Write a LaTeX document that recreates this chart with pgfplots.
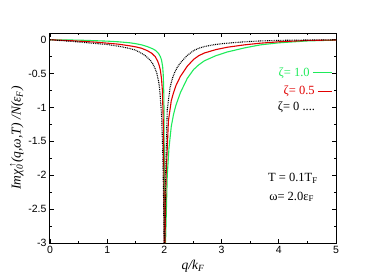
\documentclass[border=0pt]{standalone}
\usepackage{fontspec}
\setmainfont{Liberation Serif}
\newfontfamily\tickfont{Liberation Sans}
\usepackage{pgfplots}
\pgfplotsset{compat=1.18}
\definecolor{zgreen}{RGB}{30,235,90}
\definecolor{zred}{RGB}{225,0,0}
\begin{document}
\begin{tikzpicture}
\begin{axis}[
  scale only axis,
  width=286pt, height=210pt,
  xmin=0, xmax=5, ymin=-3, ymax=0.1,
  xtick={0,1,2,3,4,5},
  ytick={-3,-2.5,-2,-1.5,-1,-0.5,0},
  minor tick num=1,
  tick align=inside,
  xtick pos=both, ytick pos=both,
  major tick length=4pt, minor tick length=2pt,
  axis line style={line width=1pt},
  every tick/.style={line width=0.8pt, black},
  tick label style={font=\tickfont\fontsize{10.5}{11}\selectfont},
  /pgf/number format/assume math mode=true,
  yticklabel style={/pgf/number format/fixed},
  xlabel={\fontsize{13.5}{14}\selectfont\itshape q/k\textsubscript{F}},
  ylabel={\fontsize{13.5}{15}\selectfont\itshape Imχ\rlap{\textsubscript{0}}\textsuperscript{\,↑}(q,ω,T) /N(ε\textsubscript{F})},
  xlabel style={yshift=1pt},
  ylabel style={yshift=-2pt},
]
\addplot[zgreen, line width=1.1pt] coordinates {
(0,0) (0.5,-0.005) (1.0,-0.02) (1.2,-0.03) (1.4,-0.045) (1.5,-0.058) (1.6,-0.075) (1.7,-0.1) (1.8,-0.135) (1.85,-0.16) (1.9,-0.205) (1.93,-0.25) (1.95,-0.3) (1.97,-0.4) (1.98,-0.52) (1.99,-0.8) (1.995,-1.2) (1.998,-1.9) (2.0,-3)
};
\addplot[zgreen, line width=1.1pt] coordinates {
(2.02,-3) (2.05,-2.0) (2.08,-1.6) (2.12,-1.28) (2.16,-1.1) (2.2,-0.97) (2.28,-0.78) (2.4,-0.57) (2.51,-0.44) (2.6,-0.37) (2.7,-0.31) (2.9,-0.235) (3.1,-0.18) (3.4,-0.12) (3.68,-0.075) (4.0,-0.045) (4.5,-0.017) (5,-0.005)
};
\addplot[zred, line width=1.1pt] coordinates {
(0,0) (0.4,-0.015) (0.8,-0.035) (1.0,-0.05) (1.2,-0.065) (1.4,-0.09) (1.5,-0.105) (1.6,-0.125) (1.7,-0.16) (1.78,-0.2) (1.84,-0.25) (1.88,-0.31) (1.91,-0.38) (1.93,-0.45) (1.95,-0.58) (1.965,-0.75) (1.98,-1.2) (1.99,-1.9) (1.997,-3)
};
\addplot[zred, line width=1.1pt] coordinates {
(2.01,-3) (2.03,-2.0) (2.07,-1.2) (2.12,-0.9) (2.16,-0.78) (2.2,-0.68) (2.28,-0.54) (2.4,-0.39) (2.51,-0.29) (2.6,-0.235) (2.7,-0.195) (2.9,-0.145) (3.1,-0.11) (3.4,-0.075) (3.68,-0.05) (4.0,-0.03) (4.5,-0.01) (5,-0.003)
};
\addplot[black, line width=1.1pt, dash pattern=on 0.9pt off 0.9pt] coordinates {
(0,0) (0.2,-0.012) (0.4,-0.025) (0.6,-0.04) (0.8,-0.055) (1.0,-0.07) (1.2,-0.095) (1.4,-0.13) (1.5,-0.155) (1.58,-0.19) (1.65,-0.225) (1.7,-0.26) (1.76,-0.31) (1.8,-0.36) (1.84,-0.43) (1.87,-0.5) (1.9,-0.62) (1.92,-0.75) (1.95,-1.1) (1.97,-1.6) (1.985,-2.3) (1.995,-3)
};
\addplot[black, line width=1.1pt, dash pattern=on 0.9pt off 0.9pt] coordinates {
(2.005,-3) (2.02,-2.0) (2.05,-1.03) (2.1,-0.7) (2.14,-0.57) (2.18,-0.48) (2.23,-0.4) (2.28,-0.34) (2.4,-0.23) (2.51,-0.16) (2.6,-0.125) (2.7,-0.1) (2.9,-0.068) (3.1,-0.05) (3.4,-0.03) (3.68,-0.017) (4.0,-0.009) (4.5,-0.003) (5,0)
};
\node[anchor=east, text=zgreen, font=\fontsize{12.5}{14}\selectfont, inner sep=0pt] at (axis cs:4.93,-0.49) {ζ= 1.0 \rule[0.55ex]{19pt}{0.9pt}};
\node[anchor=east, text=zred, font=\fontsize{12.5}{14}\selectfont, inner sep=0pt] at (axis cs:4.93,-0.765) {ζ= 0.5 \rule[0.55ex]{14pt}{0.9pt}};
\node[anchor=west, text=black, font=\fontsize{12.5}{14}\selectfont, inner sep=0pt] at (axis cs:3.98,-1.0) {ζ= 0 ....};
\node[anchor=west, font=\fontsize{12.5}{14}\selectfont, inner sep=0pt] at (axis cs:3.81,-2.04) {T = 0.1T\textsubscript{F}};
\node[anchor=west, font=\fontsize{12.5}{14}\selectfont, inner sep=0pt] at (axis cs:3.83,-2.32) {ω= 2.0ε\textsubscript{F}};
\coordinate (ll) at (rel axis cs:0,0);
\coordinate (ur) at (rel axis cs:1,1);
\end{axis}
\path ([shift={(-50pt,-30pt)}]ll) rectangle ([shift={(45pt,33pt)}]ur);
\end{tikzpicture}
\end{document}
